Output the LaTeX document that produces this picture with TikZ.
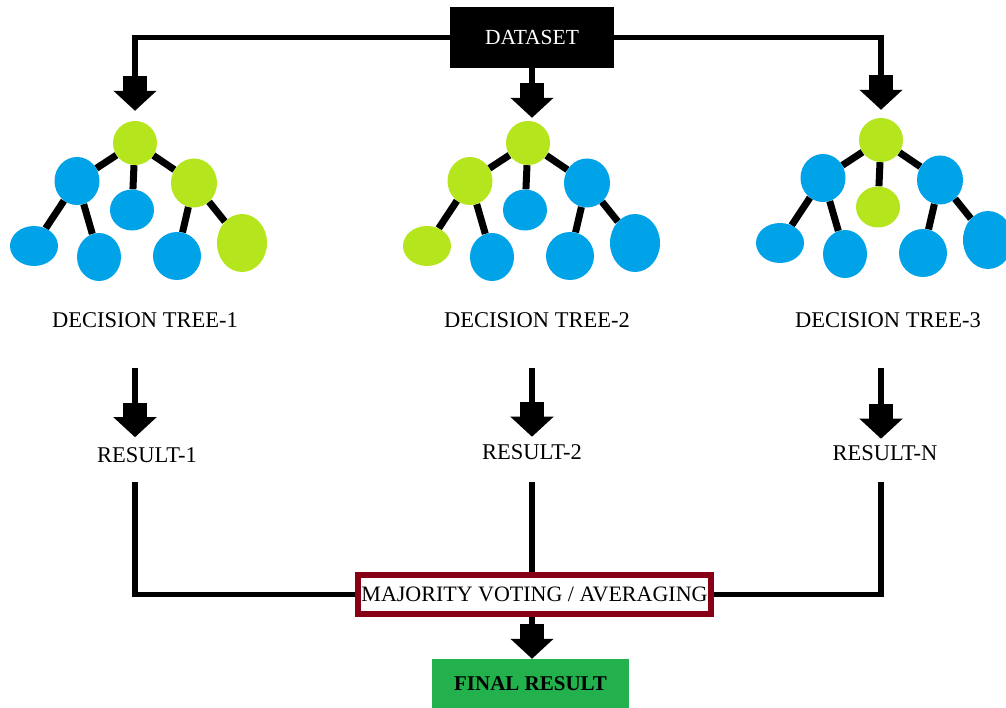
\documentclass[tikz,border=0pt]{standalone}
\usepackage{fontspec}
\setmainfont{Liberation Serif}
\usetikzlibrary{shapes.geometric,arrows.meta,backgrounds}
\definecolor{leafgreen}{HTML}{B5E61D}
\definecolor{leafblue}{HTML}{00A2E8}
\definecolor{boxred}{HTML}{880015}
\definecolor{okgreen}{HTML}{22B14C}
\tikzset{
  gnode/.style={ellipse, fill=leafgreen, inner sep=0pt},
  bnode/.style={ellipse, fill=leafblue, inner sep=0pt},
  treeedge/.style={line width=7pt},
  conn/.style={line width=5.5pt},
  blockarrow/.style={conn, -{Rectangle[length=16pt,width=24pt,sep=-1.5pt]Triangle[length=20pt,width=42pt]}},
  lbl/.style={inner sep=0pt, font=\fontsize{22.5}{26}\selectfont},
}
\newcommand\dtree[9]{%
  \node[gnode, minimum width=44pt, minimum height=44pt] (#1r) at (#2) {};
  \node[#3, minimum width=45pt, minimum height=48pt] (#1a) at ([shift={(-58,38)}]#1r.center) {};
  \node[#4, minimum width=44pt, minimum height=41pt] (#1m) at ([shift={(-3,67)}]#1r.center) {};
  \node[#5, minimum width=46pt, minimum height=49pt] (#1c) at ([shift={(59,40)}]#1r.center) {};
  \node[#6, minimum width=48pt, minimum height=40pt] (#1aa) at ([shift={(-101,103)}]#1r.center) {};
  \node[#7, minimum width=44pt, minimum height=48pt] (#1ab) at ([shift={(-36,114)}]#1r.center) {};
  \node[#8, minimum width=48pt, minimum height=48pt] (#1ca) at ([shift={(42,113)}]#1r.center) {};
  \node[#9, minimum width=50pt, minimum height=58pt] (#1cb) at ([shift={(107,100)}]#1r.center) {};
  \begin{scope}[on background layer]
    \draw[treeedge] (#1r) -- (#1a) (#1r) -- (#1m) (#1r) -- (#1c)
      (#1a) -- (#1aa) (#1a) -- (#1ab) (#1c) -- (#1ca) (#1c) -- (#1cb);
  \end{scope}
}
\begin{document}
\begin{tikzpicture}[x=1pt,y=-1pt]
\useasboundingbox (0,0) rectangle (1006,708);
\clip (0,0) rectangle (1006,708);
\begin{scope}[on background layer]
  \fill[white] (0,0) rectangle (1006,708);
\end{scope}

% dataset
\node[fill=black, text=white, minimum width=164pt, minimum height=61pt, inner sep=0pt,
      font=\fontsize{21.5}{25}\selectfont] (ds) at (532,37.5) {DATASET};

% trees
\dtree{ta}{135,143}{bnode}{bnode}{gnode}{bnode}{bnode}{bnode}{gnode}
\dtree{tb}{528,143}{gnode}{bnode}{bnode}{gnode}{bnode}{bnode}{bnode}
\dtree{tc}{881,140}{bnode}{gnode}{bnode}{bnode}{bnode}{bnode}{bnode}

\draw[blockarrow] (ds.west) -| ([yshift=10pt]tar.north);
\draw[blockarrow] (ds.south) -- ([yshift=3pt]ds.south |- tbr.north);
\draw[blockarrow] (ds.east) -| ([yshift=8pt]tcr.north);

% labels
\node[lbl] (dt1) at (145,320) {DECISION TREE-1};
\node[lbl] (dt2) at (537,320) {DECISION TREE-2};
\node[lbl] (dt3) at (888,320) {DECISION TREE-3};

\node[lbl] (r1) at (147,455) {RESULT-1};
\node[lbl] (r2) at (532,452.5) {RESULT-2};
\node[lbl] (r3) at (885,453.5) {RESULT-N};

\draw[blockarrow, shorten <=40pt, shorten >=10pt] (dt1.south -| tar.center) -- (r1.north -| tar.center);
\draw[blockarrow, shorten <=40pt, shorten >=8pt] (dt2.south -| ds.center) -- (r2.north -| ds.center);
\draw[blockarrow, shorten <=40pt, shorten >=7pt] (dt3.south -| tcr.center) -- (r3.north -| tcr.center);

% majority voting
\node[draw=boxred, line width=6pt, minimum width=353pt, minimum height=39pt, inner sep=0pt,
      font=\fontsize{22}{26}\selectfont] (mv) at (534.5,594.5) {MAJORITY VOTING / AVERAGING};

\draw[conn, shorten <=19pt] (r1.south -| tar.center) |- (mv.west);
\draw[conn, shorten <=22pt] (r2.south) -- (r2.south |- mv.north);
\draw[conn, shorten <=21pt] (r3.south -| tcr.center) |- (mv.east);

% final result
\node[fill=okgreen, minimum width=197pt, minimum height=50pt, inner sep=0pt,
      font=\bfseries\fontsize{21}{25}\selectfont] (fr) at (530.5,684) {FINAL RESULT};
\draw[blockarrow] (mv.south -| ds.center) -- (ds.center |- fr.north);
\end{tikzpicture}
\end{document}
